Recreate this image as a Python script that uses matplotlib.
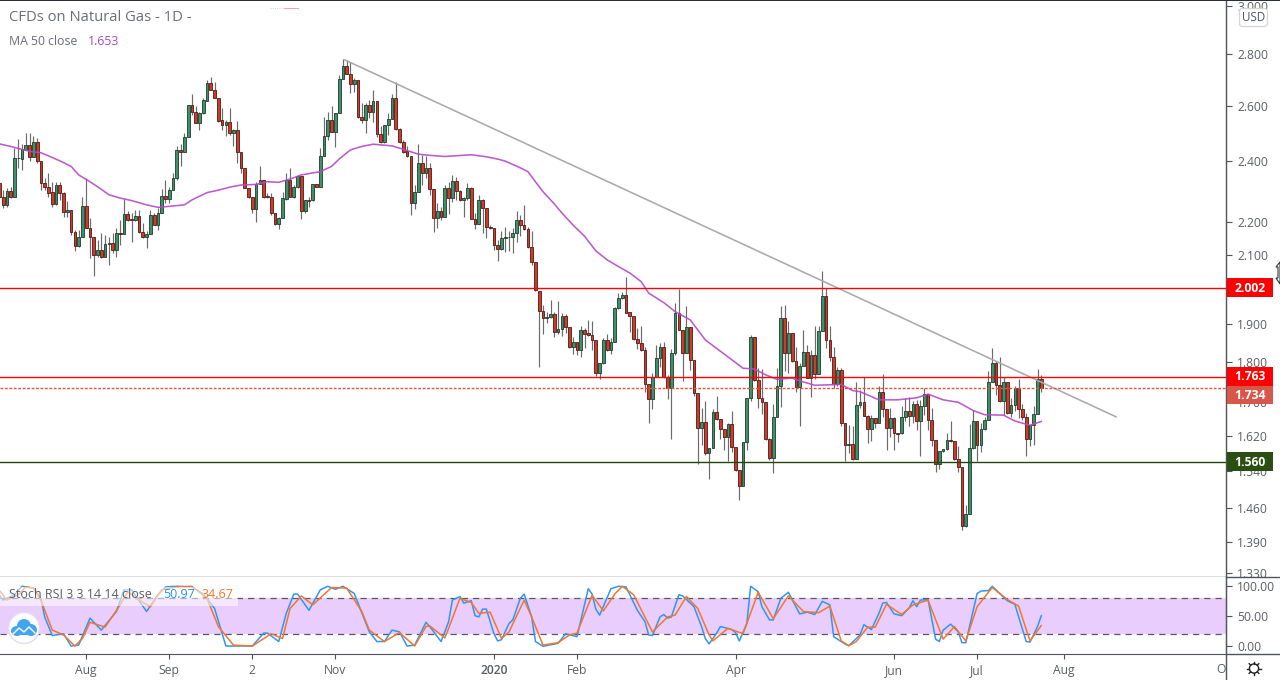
import numpy as np
import matplotlib
matplotlib.use("Agg")
import matplotlib.pyplot as plt
from matplotlib.patches import Rectangle, FancyBboxPatch, Circle, Polygon, Ellipse
from matplotlib.transforms import Bbox

plt.rcParams['font.family'] = ['Open Sans', 'DejaVu Sans']

opens = [2.326,2.280,2.253,2.300,2.282,2.411,2.409,2.440,2.457,2.416,2.467,2.402,2.326,2.313,2.297,2.259,2.319,2.293,2.231,2.239,
2.169,2.127,2.153,2.251,2.181,2.154,2.099,2.113,2.094,2.132,2.136,2.115,2.166,2.162,2.225,2.210,2.206,2.219,2.169,2.153,
2.162,2.223,2.190,2.229,2.284,2.275,2.303,2.342,2.440,2.431,2.485,2.601,2.578,2.537,2.572,2.618,2.684,2.660,2.629,2.546,
2.530,2.538,2.501,2.510,2.433,2.378,2.310,2.280,2.241,2.322,2.336,2.283,2.280,2.229,2.195,2.212,2.274,2.336,2.282,2.313,
2.350,2.235,2.271,2.270,2.323,2.313,2.417,2.489,2.546,2.505,2.572,2.700,2.751,2.719,2.680,2.696,2.556,2.546,2.601,2.575,
2.616,2.496,2.467,2.528,2.550,2.629,2.514,2.467,2.436,2.420,2.260,2.297,2.394,2.360,2.378,2.306,2.214,2.235,2.217,2.310,
2.278,2.332,2.300,2.270,2.277,2.310,2.211,2.195,2.270,2.244,2.183,2.181,2.129,2.116,2.150,2.152,2.153,2.166,2.206,2.190,
2.178,2.122,2.077,1.994,1.938,1.916,1.919,1.928,1.878,1.887,1.923,1.892,1.838,1.852,1.830,1.884,1.876,1.871,1.857,1.773,
1.797,1.857,1.830,1.852,1.945,1.973,1.981,1.933,1.923,1.860,1.849,1.831,1.743,1.707,1.763,1.810,1.839,1.761,1.735,1.823,
1.931,1.884,1.823,1.892,1.805,1.722,1.637,1.652,1.579,1.591,1.675,1.659,1.635,1.616,1.647,1.593,1.541,1.507,1.604,1.709,
1.865,1.754,1.709,1.699,1.612,1.568,1.663,1.740,1.917,1.823,1.876,1.802,1.737,1.791,1.826,1.759,1.818,1.769,1.881,1.978,
1.857,1.813,1.745,1.779,1.649,1.597,1.600,1.566,1.693,1.699,1.666,1.635,1.661,1.649,1.724,1.683,1.637,1.661,1.626,1.625,
1.663,1.678,1.666,1.695,1.653,1.690,1.719,1.656,1.609,1.555,1.584,1.589,1.609,1.607,1.566,1.548,1.423,1.447,1.591,1.654,
1.599,1.635,1.656,1.748,1.797,1.741,1.702,1.749,1.673,1.693,1.735,1.683,1.663,1.612,1.644,1.671,1.757]

highs = [2.337,2.304,2.310,2.312,2.446,2.478,2.461,2.501,2.499,2.489,2.481,2.402,2.343,2.360,2.331,2.329,2.329,2.298,2.266,2.239,
2.176,2.176,2.282,2.343,2.212,2.154,2.145,2.166,2.160,2.153,2.166,2.181,2.207,2.274,2.234,2.229,2.237,2.239,2.197,2.171,
2.239,2.229,2.244,2.306,2.337,2.313,2.360,2.455,2.461,2.499,2.601,2.642,2.598,2.578,2.627,2.697,2.707,2.690,2.629,2.591,
2.547,2.591,2.513,2.544,2.433,2.378,2.310,2.280,2.331,2.383,2.336,2.293,2.295,2.229,2.217,2.298,2.360,2.378,2.320,2.354,
2.350,2.271,2.282,2.322,2.323,2.446,2.559,2.578,2.598,2.572,2.716,2.779,2.776,2.769,2.704,2.696,2.608,2.608,2.621,2.659,
2.616,2.525,2.528,2.572,2.644,2.690,2.517,2.475,2.452,2.420,2.320,2.461,2.422,2.419,2.394,2.306,2.260,2.249,2.320,2.331,
2.354,2.346,2.304,2.282,2.326,2.313,2.229,2.288,2.274,2.244,2.191,2.181,2.145,2.171,2.183,2.171,2.181,2.234,2.223,2.255,
2.183,2.171,2.077,1.994,1.954,1.935,1.968,1.935,1.965,1.931,1.929,1.892,1.865,1.852,1.896,1.890,1.912,1.908,1.857,1.797,
1.862,1.874,1.862,1.949,1.987,1.991,2.033,1.933,1.923,1.890,1.896,1.839,1.743,1.772,1.845,1.849,1.852,1.767,1.834,1.960,
1.999,1.884,1.951,1.892,1.805,1.722,1.685,1.703,1.591,1.683,1.715,1.659,1.635,1.649,1.677,1.593,1.541,1.604,1.709,1.871,
1.865,1.784,1.782,1.699,1.615,1.695,1.785,1.951,1.953,1.908,1.876,1.839,1.797,1.885,1.845,1.832,1.896,1.896,2.051,2.003,
1.896,1.839,1.788,1.784,1.649,1.644,1.642,1.749,1.730,1.763,1.669,1.669,1.661,1.739,1.769,1.683,1.685,1.664,1.626,1.690,
1.709,1.713,1.702,1.705,1.705,1.734,1.719,1.685,1.609,1.584,1.589,1.625,1.654,1.607,1.595,1.548,1.466,1.647,1.680,1.654,
1.649,1.664,1.777,1.837,1.802,1.813,1.763,1.749,1.709,1.739,1.757,1.695,1.673,1.644,1.690,1.782,1.767]

lows = [2.275,2.244,2.249,2.277,2.280,2.378,2.369,2.440,2.401,2.416,2.394,2.302,2.302,2.282,2.247,2.255,2.271,2.216,2.216,2.160,
2.112,2.124,2.153,2.180,2.089,2.037,2.094,2.089,2.094,2.069,2.104,2.094,2.130,2.162,2.202,2.137,2.202,2.166,2.150,2.121,
2.162,2.190,2.176,2.229,2.260,2.260,2.302,2.337,2.383,2.431,2.485,2.566,2.535,2.511,2.570,2.618,2.658,2.628,2.540,2.511,
2.490,2.492,2.452,2.394,2.362,2.310,2.277,2.229,2.199,2.322,2.277,2.277,2.223,2.191,2.178,2.212,2.271,2.280,2.277,2.310,
2.209,2.229,2.247,2.266,2.313,2.313,2.417,2.475,2.505,2.449,2.572,2.700,2.719,2.648,2.652,2.555,2.537,2.501,2.553,2.540,
2.487,2.464,2.464,2.492,2.550,2.511,2.464,2.429,2.414,2.221,2.242,2.297,2.320,2.343,2.288,2.168,2.181,2.207,2.217,2.226,
2.263,2.271,2.266,2.217,2.270,2.209,2.179,2.195,2.166,2.150,2.179,2.114,2.082,2.114,2.109,2.111,2.106,2.137,2.156,2.176,
2.119,2.069,1.993,1.788,1.874,1.903,1.917,1.865,1.874,1.869,1.876,1.836,1.821,1.819,1.814,1.836,1.869,1.832,1.765,1.757,
1.795,1.828,1.821,1.852,1.942,1.970,1.931,1.880,1.858,1.834,1.828,1.725,1.649,1.683,1.763,1.787,1.759,1.708,1.613,1.819,
1.884,1.752,1.823,1.780,1.715,1.556,1.599,1.575,1.523,1.591,1.657,1.612,1.587,1.561,1.583,1.540,1.476,1.507,1.587,1.703,
1.752,1.684,1.670,1.610,1.564,1.536,1.663,1.687,1.776,1.773,1.800,1.725,1.643,1.790,1.759,1.711,1.757,1.769,1.881,1.836,
1.802,1.734,1.738,1.642,1.561,1.579,1.564,1.566,1.685,1.665,1.603,1.607,1.637,1.649,1.664,1.587,1.617,1.587,1.606,1.623,
1.653,1.642,1.649,1.633,1.574,1.669,1.633,1.596,1.538,1.543,1.583,1.587,1.605,1.564,1.538,1.414,1.420,1.447,1.590,1.561,
1.581,1.634,1.656,1.748,1.718,1.700,1.669,1.670,1.664,1.677,1.661,1.657,1.574,1.596,1.598,1.671,1.725]

closes = [2.282,2.253,2.300,2.282,2.411,2.412,2.442,2.457,2.416,2.467,2.402,2.326,2.312,2.295,2.259,2.320,2.293,2.231,2.239,2.168,
2.127,2.154,2.251,2.180,2.153,2.099,2.113,2.094,2.133,2.136,2.115,2.166,2.162,2.225,2.208,2.206,2.219,2.168,2.153,2.163,
2.223,2.190,2.229,2.284,2.275,2.303,2.343,2.440,2.431,2.485,2.601,2.578,2.537,2.572,2.621,2.684,2.660,2.629,2.544,2.530,
2.538,2.501,2.510,2.431,2.377,2.310,2.280,2.241,2.322,2.336,2.282,2.280,2.229,2.195,2.212,2.277,2.336,2.282,2.313,2.350,
2.235,2.270,2.268,2.322,2.313,2.417,2.489,2.546,2.505,2.572,2.700,2.751,2.719,2.680,2.696,2.556,2.546,2.601,2.575,2.616,
2.496,2.467,2.528,2.550,2.629,2.514,2.467,2.434,2.420,2.260,2.297,2.394,2.360,2.378,2.306,2.214,2.235,2.217,2.310,2.278,
2.332,2.300,2.270,2.277,2.310,2.210,2.195,2.270,2.244,2.183,2.181,2.129,2.116,2.150,2.153,2.154,2.166,2.206,2.190,2.178,
2.122,2.077,1.995,1.938,1.916,1.920,1.928,1.878,1.887,1.923,1.892,1.838,1.852,1.830,1.884,1.875,1.871,1.857,1.773,1.797,
1.857,1.830,1.852,1.945,1.973,1.981,1.932,1.923,1.860,1.849,1.831,1.743,1.707,1.763,1.810,1.839,1.761,1.735,1.823,1.931,
1.884,1.823,1.892,1.805,1.722,1.637,1.652,1.579,1.591,1.675,1.659,1.635,1.616,1.647,1.593,1.541,1.507,1.604,1.709,1.865,
1.754,1.709,1.699,1.612,1.568,1.663,1.740,1.917,1.823,1.876,1.802,1.737,1.791,1.826,1.759,1.818,1.769,1.881,1.978,1.857,
1.813,1.745,1.779,1.649,1.597,1.600,1.566,1.693,1.699,1.666,1.635,1.661,1.649,1.724,1.683,1.637,1.661,1.625,1.623,1.663,
1.678,1.666,1.695,1.653,1.690,1.719,1.656,1.609,1.555,1.584,1.589,1.609,1.607,1.566,1.548,1.423,1.447,1.591,1.654,1.599,
1.635,1.656,1.748,1.797,1.741,1.702,1.749,1.673,1.693,1.735,1.683,1.663,1.612,1.644,1.671,1.757,1.734]

ma_bar = [0,3,5,8,11,13,16,19,21,24,27,29,32,35,39,42,44,49,51,55,58,61,64,68,71,74,77,80,85,88,90,93,96,99,104,107,111,114,118,125,129,132,134,138,
140,142,144,147,149,152,155,158,161,164,167,170,172,176,179,183,187,191,194,197,200,203,206,210,212,216,223,226,228,233,238,243,246,250,254,258,261,266,269,273,276]
ma_val = [2.461,2.452,2.445,2.435,2.430,2.419,2.402,2.383,2.354,2.331,2.306,2.288,2.277,2.269,2.255,2.247,2.249,2.255,2.271,2.295,2.303,2.313,2.320,2.322,2.331,2.329,2.340,2.354,2.365,2.383,2.408,2.440,2.452,2.460,2.454,2.442,2.425,2.421,2.417,2.423,2.416,2.408,2.401,2.378,
2.365,2.331,2.298,2.258,2.229,2.190,2.156,2.111,2.084,2.064,2.045,2.020,1.987,1.960,1.935,1.912,1.858,1.828,1.806,1.784,1.782,1.767,1.756,1.759,1.752,1.741,1.743,1.728,1.725,1.705,1.705,1.710,1.719,1.705,1.699,1.679,1.669,1.668,1.654,1.644,1.653]

k_bar = [0,1,4,6,9,11,12,14,17,19,21,24,27,31,33,35,39,42,44,47,51,54,57,60,64,67,70,71,74,76,78,79,82,85,87,89,91,94,98,100,102,104,106,108,110,113,
114,117,119,120,122,123,125,126,127,128,129,131,132,133,135,136,138,139,141,142,144,148,150,153,156,157,158,159,162,164,166,167,169,171,172,173,175,176,177,178,180,181,184,186,187,188,190,191,194,195,196,198,199,201,202,204,205,207,209,212,214,216,218,220,221,224,
225,228,229,231,233,234,235,237,239,241,242,243,244,246,248,249,250,252,254,255,256,259,260,262,263,265,267,269,272,273,275,276]
k_val = [85,77,86,100,97,80,49,18,21,0.5,2,47,27,58,94,94,58,86,99,100,99,87,63,0.5,0.5,0.5,22,22,8,55,87,87,60,94,100,95,100,88,24,8,8,27,24,0.5,2,40,
33,8,41,77,83,72,76,51,49,62,62,21,9,11,38,44,80,87,49,8,0,5,21,16,96,87,62,52,96,100,99,86,60,41,19,18,49,53,47,49,86,84,66,33,13,4,22,33,28,23,9,38,100,91,66,44,44,80,90,54,57,53,75,69,16,4,
1,19,36,28,55,72,73,54,51,64,76,66,77,78,12,8,27,37,24,6,6,88,92,93,100,88,76,70,8,7,33,50.97]

d_bar = [0,2,5,7,9,11,14,17,20,22,24,28,32,34,37,40,43,47,51,55,58,62,67,72,75,77,80,83,88,92,96,98,102,106,110,113,
114,116,118,119,122,125,127,130,133,135,139,141,144,148,151,153,157,160,163,165,168,173,177,179,182,185,188,189,193,197,201,205,209,213,217,220,223,
225,227,230,232,235,239,242,246,250,253,256,259,263,267,270,273,276]
d_val = [93,77,86,99,97,77,27,19,0.5,13,40,32,69,91,77,66,94,99,100,80,33,2,0.5,21,13,63,84,69,98,97,58,27,8,23,0.5,33,
34,24,14,30,80,73,55,57,13,24,77,49,2,6,19,22,85,59,87,100,86,24,49,52,83,63,19,9,30,21,90,46,84,58,56,67,9,
1,8,32,32,70,53,69,77,12,33,9,66,98,78,67,9,34.67]

price_ticks = [3.0,2.8,2.6,2.4,2.2,2.1,1.9,1.8,1.7,1.62,1.54,1.46,1.39,1.33]
osc_ticks = [100,50,0]
month_bars = [23,45,67,89,131,153,195,237,259,282,325]
month_labels = ['Aug','Sep','2','Nov','2020','Feb','Apr','Jun','Jul','Aug','Oct']
levels = [2.002,1.763,1.734,1.560]
level_colors = ['#ff0000','#ff0000','#e8503f','#234510']
level_styles = ['-','-',(0,(2,1.2)),'-']
level_box = ['#ff0000','#ff0000','#d9574a','#2b4f12']
level_label_shift = [0,0,7,0]
trend_bars = [91.5,295.8]
trend_vals = [2.776,1.664]

assert len(opens)==len(highs)==len(lows)==len(closes)==277
assert len(ma_bar)==len(ma_val) and len(k_bar)==len(k_val) and len(d_bar)==len(d_val)

W,H = 1280,680
fig = plt.figure(figsize=(W/100,H/100),dpi=100,facecolor='white')
GREY = '#5b5e66'
AXC = '#50535e'

def add_px(l,t,r,b,**kw):
    return fig.add_axes([l/W,1-b/H,(r-l)/W,(b-t)/H],**kw)

xlim = (0.16,324.93)
ax = add_px(0,0,1226,577)
ax.set_yscale('log')
ax.set_xlim(*xlim)
ax.set_ylim(1.3225,3.025)
ax.set_yticks(price_ticks)
ax.set_yticklabels([f'{v:.3f}' for v in price_ticks])
ax.yaxis.set_minor_locator(matplotlib.ticker.NullLocator())
ax.yaxis.tick_right()
ax.tick_params(axis='y',length=4.5,width=0.8,color=AXC,labelcolor=GREY,labelsize=8.7,pad=3.5)
ax.set_xticks([])
for s in ['top','left']:
    ax.spines[s].set_visible(False)
ax.spines['right'].set_color(AXC); ax.spines['bottom'].set_color(AXC)
ax.spines['right'].set_linewidth(1); ax.spines['bottom'].set_linewidth(1)

bars = np.arange(len(opens))
o,h,l,c = map(np.array,(opens,highs,lows,closes))
up = c>=o
ax.vlines(bars,l,h,color='#6b6b6b',linewidth=0.85,zorder=2)
ax.bar(bars[up],np.abs(c-o)[up],bottom=np.minimum(o,c)[up],width=0.72,facecolor='#3f9169',edgecolor='#1d3b2c',linewidth=0.6,zorder=3)
ax.bar(bars[~up],np.abs(c-o)[~up],bottom=np.minimum(o,c)[~up],width=0.72,facecolor='#cf3b2a',edgecolor='#4d1a12',linewidth=0.6,zorder=3)
ax.plot(ma_bar,ma_val,color='#b648c8',lw=1.15,alpha=0.9,zorder=4,solid_joinstyle='round')
ax.plot(trend_bars,trend_vals,color='#aaaaaa',lw=1.15,zorder=4)
for v,col,ls in zip(levels,level_colors,level_styles):
    ax.axhline(v,color=col,lw=1.0,ls=ls,zorder=5)

ax2 = add_px(0,577,1226,654)
ax2.set_xlim(*xlim)
ax2.set_ylim(-12.8,115.5)
ax2.axhspan(20,80,color='#e9cdfd',lw=0,zorder=0)
ax2.axhline(80,color='#5a5560',lw=0.9,ls=(0,(5,4)),zorder=1)
ax2.axhline(20,color='#5a5560',lw=0.9,ls=(0,(5,4)),zorder=1)
ax2.plot(k_bar,k_val,color='#2f96f3',lw=1.1,zorder=3,solid_joinstyle='round')
ax2.plot(d_bar,d_val,color='#f2762e',lw=1.1,zorder=4,solid_joinstyle='round')
ax2.yaxis.tick_right()
ax2.set_yticks(osc_ticks)
ax2.set_yticklabels([f'{v:.2f}' for v in osc_ticks])
ax2.tick_params(axis='y',length=4.5,width=0.8,color=AXC,labelcolor=GREY,labelsize=8.7,pad=3.5)
visible = [(b,t) for b,t in zip(month_bars,month_labels) if b<=xlim[1]]
ax2.set_xticks([b for b,t in visible])
ax2.set_xticklabels([t for b,t in visible])
ax2.tick_params(axis='x',length=3.5,width=0.8,color=AXC,labelcolor=GREY,labelsize=8.7,pad=3.5)
for lab,(b,t) in zip(ax2.get_xticklabels(),visible):
    if t=='2020':
        lab.set_fontweight('semibold')
for s in ['top','left']:
    ax2.spines[s].set_visible(False)
ax2.spines['right'].set_color(AXC); ax2.spines['bottom'].set_color(AXC)

# screen-space overlay for header, price tags and icons
ov = fig.add_axes([0,0,1,1],facecolor='none')
ov.set_xlim(0,W); ov.set_ylim(H,0); ov.axis('off')
ov.add_patch(Rectangle((0,0),W,1.3,color='#2a2e39',lw=0))
ov.plot([1226,1226],[577,680],color=AXC,lw=1)
ov.plot([1226,W],[577,577],color=AXC,lw=1)
ov.plot([1226,W],[654,654],color=AXC,lw=1)
ov.plot([270,284],[8.3,8.3],color='#bfe3f5',lw=0.8,ls=(0,(1,1)))
ov.plot([284,298],[8.3,8.3],color='#f4a3ad',lw=0.8)

ov.text(9,17.5,'CFDs on Natural Gas - 1D -',fontsize=10.6,color='#6a6d78',va='center',ha='left')
ov.text(9,41.5,'MA 50 close',fontsize=8.8,color='#6a6d78',va='center',ha='left')
ov.text(88,41.5,'1.653',fontsize=8.8,color='#ab47bc',va='center',ha='left')

ov.add_patch(Rectangle((0,587),238,19,color='white',alpha=0.55,lw=0))
ov.text(9,594.5,'Stoch RSI 3 3 14 14 close',fontsize=9.0,color='#5b5e66',va='center',ha='left')
ov.text(163,594.5,'50.97',fontsize=9.0,color='#2196f3',va='center',ha='left')
ov.text(201,594.5,'34.67',fontsize=9.0,color='#f2762e',va='center',ha='left')

fig.canvas.draw()
for v,col,shift in zip(levels,level_box,level_label_shift):
    ypx = H-ax.transData.transform((1,v))[1]+shift
    ov.add_patch(Rectangle((1226.5,ypx-9.4),46.5,18.8,color=col,lw=0,zorder=6))
    ov.text(1250,ypx+0.3,f'{v:.3f}',color='white',fontsize=8.7,fontweight='bold',ha='center',va='center',zorder=7)

ov.add_patch(FancyBboxPatch((1239.5,8.5),28,18,boxstyle='round,pad=0,rounding_size=3',fc='white',ec='#d5d6da',lw=0.9,zorder=8))
ov.text(1253.5,17.3,'USD',fontsize=8.4,color='#50535e',ha='center',va='center',zorder=9)

t = ov.text(1226.3,669.3,'Oct',fontsize=8.7,color=GREY,ha='center',va='center')
t.set_clip_on(True); t.set_clip_box(Bbox([[0,0],[1225.5,60]]))

# logo
ov.add_patch(Circle((24,628),15.5,fc='white',ec='#e6dcee',lw=1,zorder=6))
for cx,cy,rx,ry in [(17,631,6,5),(24,626,7,7),(31,630,6,6)]:
    ov.add_patch(Ellipse((cx,cy),2*rx,2*ry,fc='#41a6ee',ec='none',zorder=7))
ov.add_patch(Rectangle((14,630),20,5,fc='#41a6ee',ec='none',zorder=7))
ov.plot([13,19,24,29,35],[634,628,632,627,633],color='white',lw=1,zorder=8)

# gear icon
ov.add_patch(Circle((1254,668.5),4.6,fc='white',ec='#222222',lw=1,zorder=6))
for a in np.linspace(0,2*np.pi,8,endpoint=False):
    ov.plot([1254+4.6*np.cos(a),1254+6.8*np.cos(a)],[668.5+4.6*np.sin(a),668.5+6.8*np.sin(a)],color='#222222',lw=1,zorder=6)

# mouse cursor at the edge
ov.add_patch(Polygon([[1280,262],[1276,267],[1278,267],[1278,278],[1276,278],[1280,284]],closed=True,fc='white',ec='#333333',lw=0.8,zorder=6,clip_on=False))

fig.savefig('out.png',dpi=100)
